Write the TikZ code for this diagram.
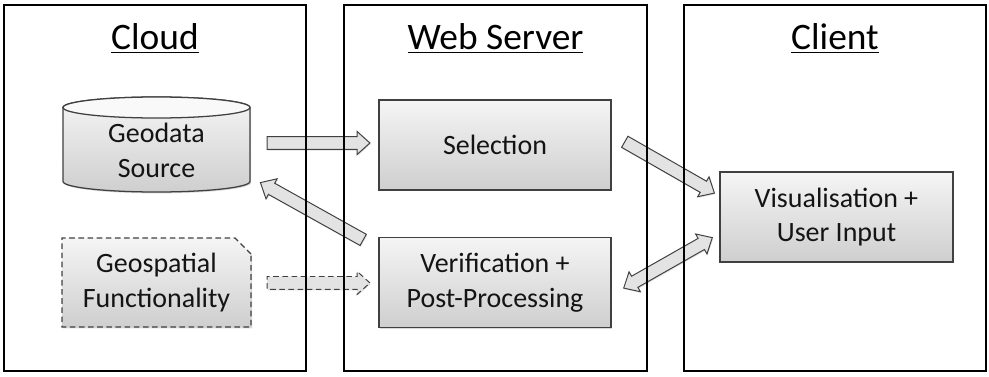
\documentclass[tikz,border=0pt]{standalone}
\usepackage{fontspec}
\setmainfont{Carlito}
\usetikzlibrary{calc,positioning,shapes.arrows,shapes.misc,shadows}

% block arrow between two (shifted) anchors
\newcommand{\blockarrow}[5][]{%
  \path let \p1=($(#2)+(#3)$), \p2=($(#4)+(#5)$),
    \n1={atan2(\y2-\y1,\x2-\x1)}, \n2={veclen(\x2-\x1,\y2-\y1)} in
    node[barrow,#1,rotate=\n1,minimum height=\n2] at ($(\p1)!0.5!(\p2)$) {};}

\begin{document}
\begin{tikzpicture}
  [every node/.style={text=black!92,font=\fontsize{19.9}{24.8}\selectfont},
   panel/.style={draw,line width=2.1pt,minimum width=7.55cm,minimum height=9.15cm},
   title/.style={text=black,font=\fontsize{26.6}{32}\selectfont},
   softshadow/.style={drop shadow={opacity=0.3,shadow xshift=0.8pt,shadow yshift=-1pt}},
   box/.style={draw=black!75,line width=0.9pt,top color=gray!8,bottom color=gray!38,
     align=center,minimum width=5.8cm,minimum height=2.25cm,softshadow},
   barrow/.style={single arrow,draw=black!75,line width=0.7pt,fill=gray!22,
     inner xsep=0pt,inner ysep=4.2pt,text height=0pt,text depth=0pt,
     single arrow head extend=3.6pt,single arrow tip angle=84,
     double arrow head extend=3.6pt,double arrow tip angle=84,
     drop shadow={opacity=0.25,shadow xshift=0.6pt,shadow yshift=-0.8pt}}]
  \useasboundingbox (0,0) rectangle (24.725,9.4);

  % Cloud
  \shadedraw[top color=gray!8,bottom color=gray!38,draw=black!75,line width=0.9pt,softshadow]
    (1.575,6.7125) -- (1.575,4.8625)
    arc[start angle=180,end angle=360,x radius=2.3375cm,y radius=0.2625cm]
    -- (6.25,6.7125)
    arc[start angle=0,end angle=180,x radius=2.3375cm,y radius=0.2625cm] -- cycle;
  \filldraw[fill=gray!5,draw=black!75,line width=0.9pt]
    (3.9125,6.7125) ellipse [x radius=2.3375cm,y radius=0.2625cm];
  \node[align=center,minimum width=4.675cm,minimum height=2.1cm] (geo) at (3.9125,5.65)
    {Geodata\\Source};
  \node[box,dashed,dash pattern=on 4pt off 2.5pt,chamfered rectangle,
    chamfered rectangle corners=north east,chamfered rectangle xsep=0.2cm,
    chamfered rectangle ysep=0.2cm,minimum width=4.725cm,minimum height=2.225cm]
    (fun) at (3.9125,2.3375) {Geospatial\\Functionality};

  % Web Server
  \node[box] (sel) at (12.375,5.775) {Selection};
  \node[box] (ver) at (12.375,2.3375) {Verification +\\Post-Processing};

  % Client
  \node[box,minimum width=5.825cm] (vis) at (20.9125,3.975) {Visualisation +\\User Input};

  % arrows
  \blockarrow{geo.east}{0.33,0.175}{sel.west}{-0.3,0.05}
  \blockarrow{ver.north west}{-0.3,-0.12}{geo.south east}{0.33,0.2}
  \blockarrow[dashed,dash pattern=on 4pt off 2.5pt]{fun.east}{0.3,-0.01}{ver.west}{-0.3,-0.01}
  \blockarrow{sel.east}{0.25,0.125}{vis.north west}{-0.2,-0.5}
  \blockarrow[double arrow]{ver.east}{0.3,-0.14}{vis.south west}{-0.175,0.625}

  % panels
  \node[panel] (cloud) at (3.875,4.7) {};
  \node[panel,minimum width=7.575cm] (web) at (12.3875,4.7) {};
  \node[panel] (client) at (20.875,4.7) {};
  \node[title] (cloudtitle) at ($(cloud.north)+(0,-0.875)$) {\underline{Cloud}};
  \node[title] (webtitle) at ($(web.north)+(0,-0.875)$) {\underline{Web Server}};
  \node[title] (clienttitle) at ($(client.north)+(0,-0.875)$) {\underline{Client}};
\end{tikzpicture}
\end{document}
